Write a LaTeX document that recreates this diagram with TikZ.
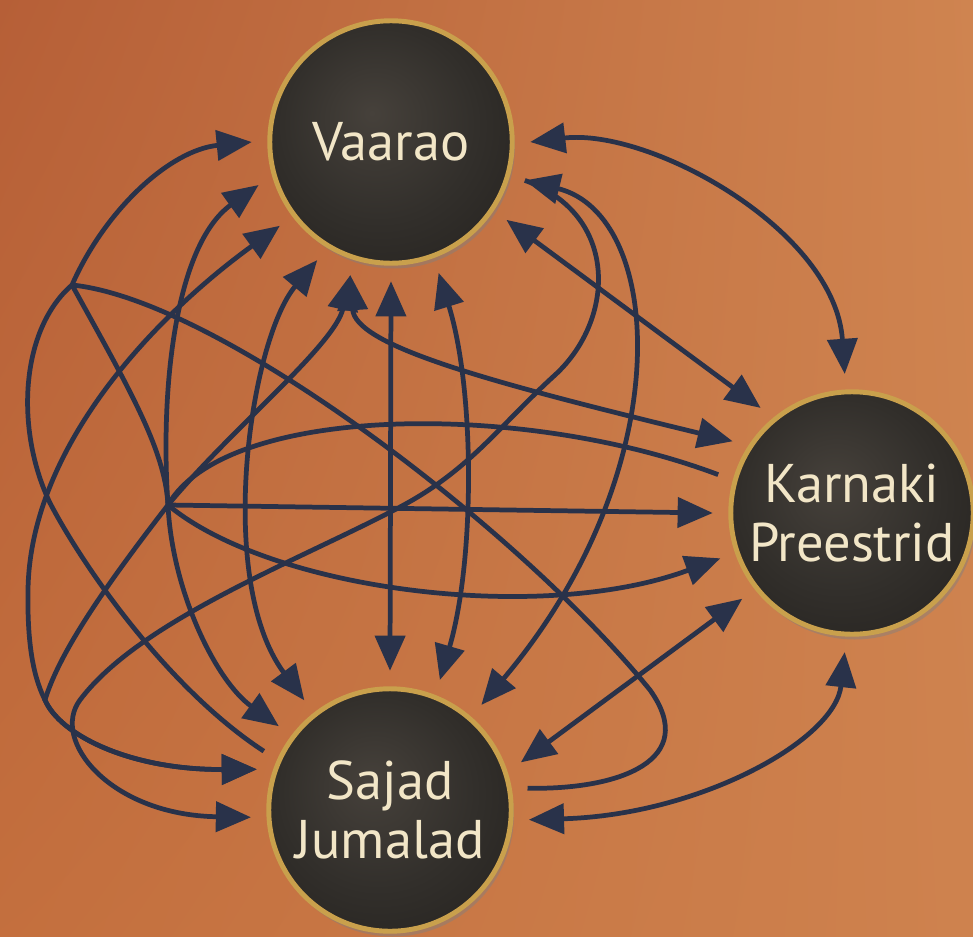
\documentclass[tikz,border=0pt]{standalone}
\usepackage{fontspec}
\setmainfont{PT Sans}
\usetikzlibrary{arrows.meta,shadows,shadings}
\definecolor{clay}{HTML}{C6723F}
\definecolor{claydark}{HTML}{B65F37}
\definecolor{claylight}{HTML}{CF8450}
\definecolor{slate}{HTML}{29324A}
\definecolor{rim}{HTML}{C9A04C}
\definecolor{cream}{HTML}{F2E6C7}
\definecolor{disclite}{HTML}{46413B}
\definecolor{discmid}{HTML}{322F2B}
\definecolor{discdark}{HTML}{221F1C}
\pgfdeclareradialshading{discshade}{\pgfpoint{-4bp}{6bp}}{%
  color(0bp)=(disclite); color(20bp)=(discmid);
  color(40bp)=(discdark); color(46bp)=(discdark!70!rim); color(50bp)=(rim)}
\tikzset{
  token/.style={circle,draw=rim,line width=2.8pt,shading=discshade,
                minimum size=4.85cm,outer sep=0.36cm,inner sep=0pt,
                align=center,text=cream,font=\fontsize{31}{34}\selectfont,
                drop shadow={opacity=0.45,shadow xshift=1.5pt,shadow yshift=-3pt}},
  link/.style={draw=slate,line width=2.7pt}
}
\begin{document}
\begin{tikzpicture}[x=0.02cm,y=-0.02cm,>={Triangle[length=20pt,width=17pt]}]
  \useasboundingbox (0,0) rectangle (973,936);
  \clip (0,0) rectangle (973,936);
  \shade[upper left=claydark,upper right=claylight,lower left=clay!85!claydark,lower right=claylight!90!clay]
    (0,0) rectangle (973,936);
  % the three gods
  \node[token] (vaarao) at (391,142) {Vaarao};
  \node[token] (karnaki) at (852,513) {Karnaki\\Preestrid};
  \node[token] (sajad) at (390,810) {Sajad\\Jumalad};
  \coordinate (lft) at (72,285);
  \coordinate (hub) at (168,505);
  \coordinate (knee) at (45,700);
  % between Vaarao and Karnaki
  \draw[link,<->] (vaarao.0) .. controls (650,128) and (835,230) .. (karnaki.93);
  \draw[link,<->] (vaarao.326) -- (karnaki.131.6);
  \draw[link,<->] (vaarao.253.5) .. controls (355,345) and (480,380) .. (karnaki.149);
  % from the hub
  \draw[link,->] (hub) .. controls (230,430) and (335,345) .. (vaarao.253.5);
  \draw[link] (hub) .. controls (225,405) and (520,400) .. (karnaki.164);
  \draw[link,->] (hub) -- (karnaki.180);
  \draw[link,->] (hub) .. controls (270,590) and (540,625) .. (karnaki.199.6);
  \draw[link,->] (hub) .. controls (160,390) and (175,245) .. (vaarao.198);
  \draw[link,->] (hub) .. controls (110,580) and (60,650) .. (knee)
    .. controls (60,735) and (130,770) .. (sajad.163.7);
  % between Karnaki and Sajad
  \draw[link,<->] (karnaki.218) -- (sajad.20.3);
  \draw[link,<->] (karnaki.267) .. controls (835,740) and (700,815) .. (sajad.356.8);
  % between Vaarao and Sajad
  \draw[link,<->] (vaarao.290.5) .. controls (475,390) and (475,560) .. (sajad.69.7);
  \draw[link,<->] (vaarao.270) -- (sajad.90);
  \draw[link,<->] (vaarao.238.7) .. controls (250,340) and (215,580) .. (sajad.128);
  \draw[link,<->] (vaarao.344) .. controls (665,215) and (680,470) .. (sajad.49.3);
  \draw[link,->] (vaarao.344) .. controls (620,215) and (615,320) .. (555,375)
    .. controls (500,425) and (470,470) .. (400,507)
    .. controls (300,560) and (140,620) .. (80,700)
    .. controls (50,740) and (110,815) .. (sajad.183);
  \draw[link,<->] (vaarao.217) .. controls (150,320) and (30,450) .. (28,590)
    .. controls (27,650) and (35,680) .. (knee)
    .. controls (60,735) and (130,770) .. (sajad.163.7);
  % from the left corner
  \draw[link,->] (lft) .. controls (105,210) and (170,150) .. (vaarao.180);
  \draw[link,->] (lft) .. controls (130,390) and (165,450) .. (hub)
    .. controls (172,590) and (215,680) .. (sajad.143.8);
  \draw[link] (lft) .. controls (20,330) and (15,430) .. (50,503)
    .. controls (85,570) and (170,690) .. (sajad.155.8);
  \draw[link] (lft) .. controls (220,300) and (520,530) .. (650,690)
    .. controls (700,760) and (620,790) .. (sajad.9.5);
\end{tikzpicture}
\end{document}
